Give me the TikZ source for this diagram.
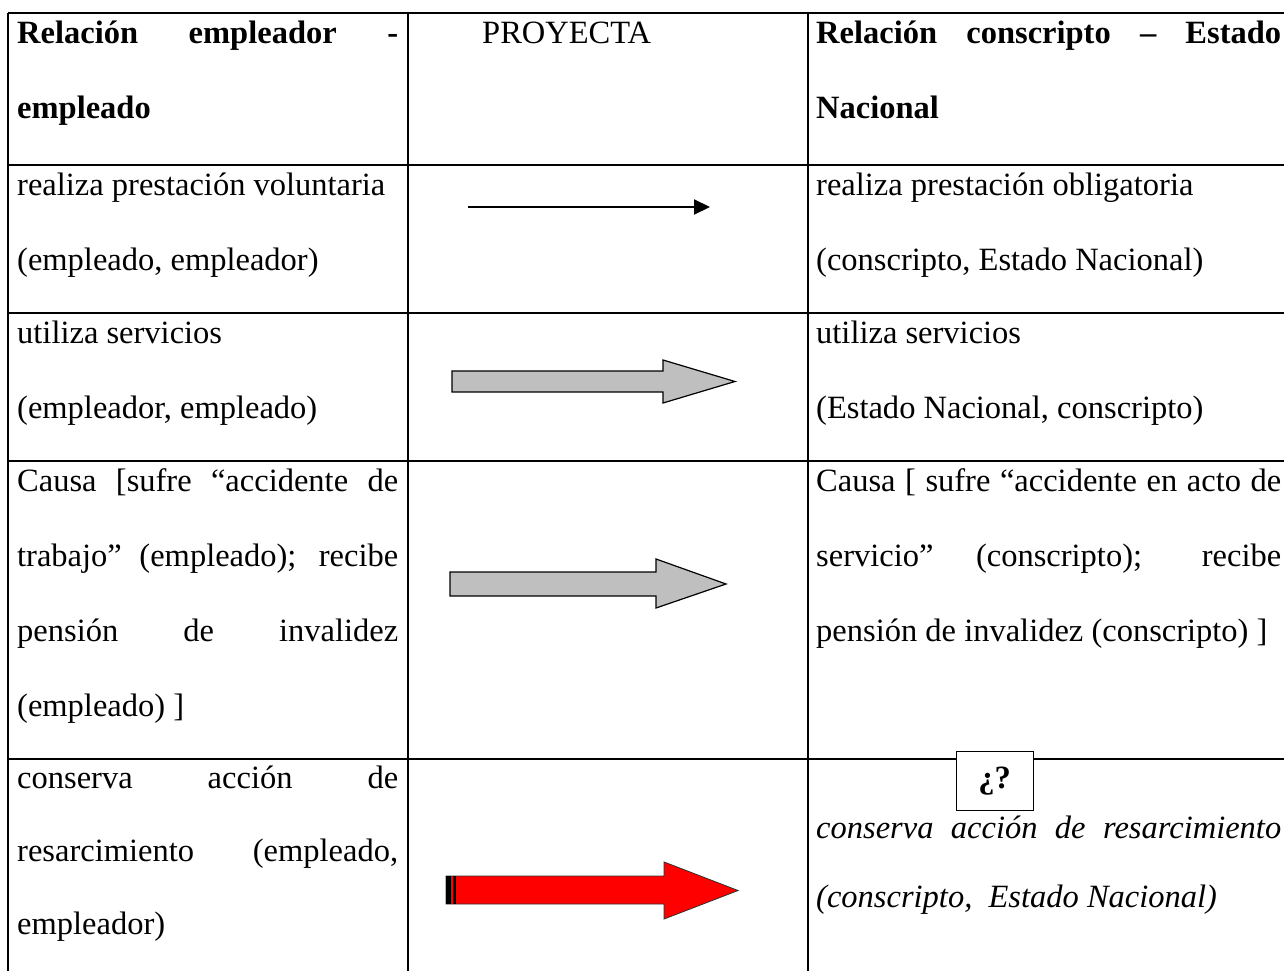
\documentclass[tikz,border=0pt]{standalone}
\usepackage{fontspec}
\setmainfont{Liberation Serif}
\usetikzlibrary{arrows.meta}
\tikzset{
	cell/.style={anchor=north west,inner sep=0pt,align=left,font=\fontsize{32.5}{75}\selectfont},
	head/.style={cell,font=\fontsize{32.5}{75}\selectfont\bfseries},
	rule/.style={line width=1.6pt},
	block/.style={draw=black,line width=1.2pt,fill=black!25},
	redblock/.style={draw=black!80,line width=0.9pt,fill=red},
	qbox/.style={draw,line width=0.8pt,fill=white,minimum width=77pt,minimum height=59pt,
		inner sep=0pt,font=\fontsize{32.5}{40}\selectfont\bfseries}
}
\newcommand{\st}{\rule{0pt}{26pt}}
\newcommand{\jl}[1]{\makebox[381pt][s]{#1}}
\newcommand{\jr}[1]{\makebox[465pt][s]{#1}}

\begin{document}
\begin{tikzpicture}[x=1pt,y=-1pt]
	\useasboundingbox (0,0) rectangle (1284,971);
	\foreach \y in {13,165,313,461,759} \draw[rule] (8,\y) -- (1284,\y);
	\foreach \x in {8,408,808} \draw[rule] (\x,13) -- (\x,971);

	\node[head] (h1) at (17,17) {\st\jl{Relación empleador -}\\empleado};
	\node[cell] (h2) at (482,17) {\st PROYECTA};
	\node[head] (h3) at (816,17) {\st\jr{Relación conscripto – Estado}\\Nacional};

	\node[cell] (a1) at (17,169) {\st realiza prestación voluntaria\\(empleado, empleador)};
	\node[cell] (a3) at (816,169) {\st realiza prestación obligatoria\\(conscripto, Estado Nacional)};

	\node[cell] (b1) at (17,317) {\st utiliza servicios\\(empleador, empleado)};
	\node[cell] (b3) at (816,317) {\st utiliza servicios\\(Estado Nacional, conscripto)};

	\node[cell] (c1) at (17,465) {\st\jl{Causa [sufre “accidente de}\\\jl{trabajo” (empleado); recibe}\\\jl{pensión de invalidez}\\(empleado) ]};
	\node[cell] (c3) at (816,465) {\st\jr{Causa [ sufre “accidente en acto de}\\\jr{servicio” (conscripto); recibe}\\pensión de invalidez (conscripto) ]};

	\node[cell,font=\fontsize{32.5}{73}\selectfont] (d1) at (17,762) {\st\jl{conserva acción de}\\\jl{resarcimiento (empleado,}\\empleador)};
	\node[qbox] (q) at (994.5,781) {¿?};
	\node[cell,font=\fontsize{32.5}{69}\selectfont\itshape] (d3) at (816,812) {\st\jr{conserva acción de resarcimiento}\\(conscripto,\ \ Estado Nacional)};

	\coordinate (s1) at (468,207);
	\coordinate (t1) at (710,207);
	\draw[line width=2pt,-{Triangle[length=16pt,width=15pt]}] (s1) -- (t1);

	\draw[block] (452,371) -- (663,371) -- (663,360) -- (735,381.5) -- (663,403) -- (663,392) -- (452,392) -- cycle;
	\draw[block] (450,572) -- (656,572) -- (656,559) -- (726,584) -- (656,608) -- (656,596) -- (450,596) -- cycle;
	\draw[redblock] (446,876) -- (664,876) -- (664,862) -- (738,890.5) -- (664,919) -- (664,904) -- (446,904) -- cycle;
	\fill (446,876) rectangle (451,904);
	\fill (453,876) rectangle (455.5,904);
\end{tikzpicture}
\end{document}
